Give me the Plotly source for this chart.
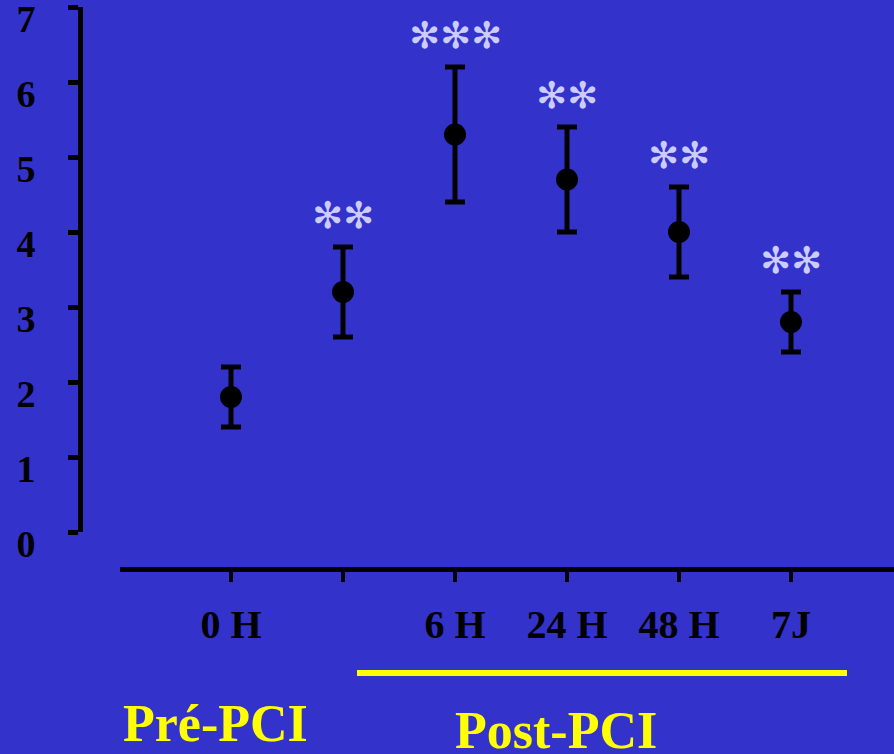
import plotly.graph_objects as go

# ---- data ----
time_labels = ["0 H", "", "6 H", "24 H", "48 H", "7J"]
means = [1.8, 3.2, 5.3, 4.7, 4.0, 2.8]
errors = [0.4, 0.6, 0.9, 0.7, 0.6, 0.4]
significance = ["", "✻✻", "✻✻✻", "✻✻", "✻✻", "✻✻"]
y_ticks = [0, 1, 2, 3, 4, 5, 6, 7]
group_labels = ["Pré-PCI", "Post-PCI"]

W, H = 894, 754
BG = "#3333cc"
SERIF = "Liberation Serif, Times New Roman, serif"

x_idx = list(range(len(means)))

fig = go.Figure()
fig.add_trace(go.Scatter(
    x=x_idx, y=means, mode="markers",
    marker=dict(size=22, color="black"),
    error_y=dict(type="data", array=errors, visible=True,
                 color="black", thickness=5, width=10),
    showlegend=False, hoverinfo="skip",
))

# significance stars
for xi, m, e, s in zip(x_idx, means, errors, significance):
    if s:
        fig.add_annotation(x=xi, y=m + e + 0.42, text=s, showarrow=False,
                           xref="x", yref="y", yanchor="middle",
                           font=dict(family="DejaVu Sans", size=37, color="#ccccff"))

# group labels and bar under post-PCI
fig.add_annotation(x=215 / W, y=1 - 693 / H, xref="paper", yref="paper",
                   text="<b>%s</b>" % group_labels[0], showarrow=False,
                   xanchor="center", yanchor="top",
                   font=dict(family=SERIF, size=52, color="#ffff00"))
fig.add_annotation(x=556 / W, y=1 - 700 / H, xref="paper", yref="paper",
                   text="<b>%s</b>" % group_labels[1], showarrow=False,
                   xanchor="center", yanchor="top",
                   font=dict(family=SERIF, size=52, color="#ffff00"))
fig.add_shape(type="line", xref="paper", yref="paper",
              x0=357 / W, x1=847 / W, y0=1 - 673 / H, y1=1 - 673 / H,
              line=dict(color="#ffff00", width=6))

fig.update_layout(
    width=W, height=H,
    margin=dict(l=0, r=0, t=0, b=0),
    paper_bgcolor=BG, plot_bgcolor=BG,
    xaxis=dict(
        domain=[120 / W, 1], anchor="free", position=1 - 569 / H,
        range=[-(231 - 120) / 112, 5 + (894 - 791) / 112],
        tickmode="array", tickvals=x_idx, ticktext=time_labels,
        showline=True, linecolor="black", linewidth=5,
        ticks="outside", ticklen=10, tickwidth=4, tickcolor="black",
        showgrid=False, zeroline=False, automargin=False,
        tickfont=dict(family=SERIF, size=40, color="black", weight="bold"),
        ticklabelstandoff=8, ticklabeloverflow="allow",
    ),
    yaxis=dict(
        domain=[1 - 532 / H, 1 - 7 / H], anchor="free", position=80 / W,
        range=[0, 7], tickmode="array", tickvals=y_ticks,
        showline=True, linecolor="black", linewidth=5,
        ticks="outside", ticklen=10, tickwidth=5, tickcolor="black",
        showgrid=False, zeroline=False, automargin=False,
        tickfont=dict(family=SERIF, size=38, color="black", weight="bold"),
        ticklabelstandoff=25, ticklabelshift=12, ticklabeloverflow="allow",
    ),
)

fig.write_html("out.html", config={"displayModeBar": False},
               post_script="document.body.style.margin='0';")
